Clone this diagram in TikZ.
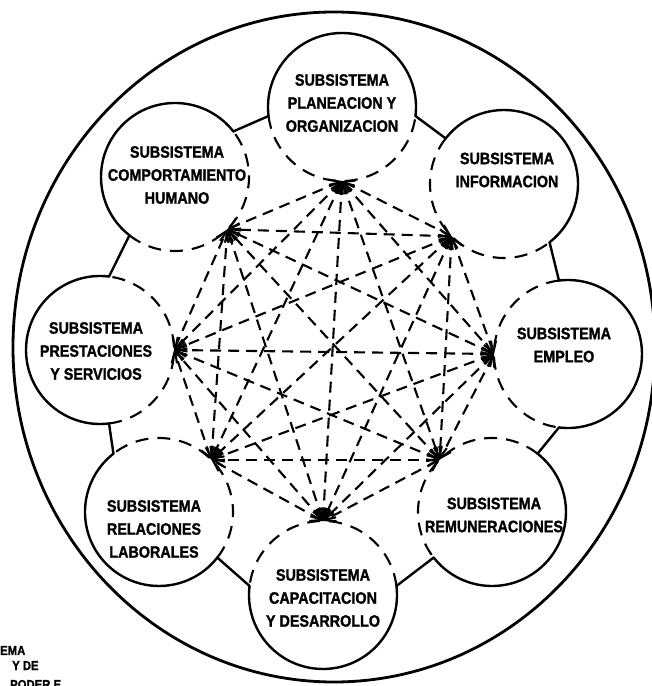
\documentclass[tikz,border=0pt]{standalone}
\usepackage{fontspec}
\newfontfamily\labelfont{Liberation Sans}[FakeStretch=0.87, BoldFeatures={FakeBold=1.3}]
\usetikzlibrary{arrows.meta,calc}

\begin{document}
\begin{tikzpicture}[x=1pt, y=1pt,
  sub/.style={circle, minimum size=148pt, inner sep=0pt, outer sep=0pt},
  rim/.style={line width=2.4pt, line cap=round},
  rimdash/.style={line width=2.1pt, dash pattern=on 13pt off 9pt},
  txt/.style={align=center, font=\labelfont\bfseries\fontsize{16.5}{23}\selectfont},
  frag/.style={anchor=base west, inner sep=0pt, font=\labelfont\bfseries\fontsize{13}{14}\selectfont},
  arr/.style={{Straight Barb[length=10pt,width=13pt]}-{Straight Barb[length=10pt,width=13pt]}, line width=2.1pt, dash pattern=on 11pt off 7pt}
]
  \useasboundingbox (0,0) rectangle (652,686);

  % outer boundary
  \draw[line width=2.8pt] (334,339) ellipse [x radius=321pt, y radius=335pt];

  % subsystems
  \node[sub] (planeacion) at (342,579) {};
  \node[sub] (informacion) at (504,502) {};
  \node[sub] (empleo) at (568,332) {};
  \node[sub] (remuneraciones) at (492,174) {};
  \node[sub] (capacitacion) at (323,91) {};
  \node[sub] (relaciones) at (159,174) {};
  \node[sub] (prestaciones) at (100,336) {};
  \node[sub] (comportamiento) at (175,509) {};

  \node[txt] at ([yshift=4pt]planeacion) {SUBSISTEMA\\PLANEACION Y\\ORGANIZACION};
  \node[txt] at ([xshift=3pt,yshift=14pt]informacion) {SUBSISTEMA\\INFORMACION};
  \node[txt] at ([xshift=-4pt,yshift=9pt]empleo) {SUBSISTEMA\\EMPLEO};
  \node[txt] at ([xshift=2pt,yshift=-3pt]remuneraciones) {SUBSISTEMA\\REMUNERACIONES};
  \node[txt] at ([yshift=-3pt]capacitacion) {SUBSISTEMA\\CAPACITACION\\Y DESARROLLO};
  \node[txt] at ([xshift=-5pt,yshift=-17pt]relaciones) {SUBSISTEMA\\RELACIONES\\LABORALES};
  \node[txt] at ([xshift=-4pt,yshift=-1pt]prestaciones) {SUBSISTEMA\\PRESTACIONES\\Y SERVICIOS};
  \node[txt] at ([xshift=2pt,yshift=2pt]comportamiento) {SUBSISTEMA\\COMPORTAMIENTO\\HUMANO};

  % solid outer arcs, dashed inner arcs, inner points
  \foreach \n/\a in {planeacion/90, informacion/45, empleo/0, remuneraciones/-45,
                     capacitacion/-90, relaciones/-135, prestaciones/180, comportamiento/135} {
    \draw[rim] (\n) ++(\a-97:74pt) arc[start angle=\a-97, end angle=\a+97, radius=74pt];
    \draw[rimdash] (\n) ++(\a+97:74pt) arc[start angle=\a+97, end angle=\a+263, radius=74pt];
    \coordinate (\n-in) at ($(\n)+(\a+180:74pt)$);
  }

  % short links between neighbours
  \foreach \n/\m/\a in {empleo/informacion/0, informacion/planeacion/45, planeacion/comportamiento/90,
                        comportamiento/prestaciones/135, prestaciones/relaciones/180,
                        relaciones/capacitacion/-135, capacitacion/remuneraciones/-90,
                        remuneraciones/empleo/-45}
    \draw[rim] ($(\n)+(\a+97:74pt)$) -- ($(\m)+(\a-52:74pt)$);

  % every subsystem linked with every other
  \foreach \u [count=\i] in {planeacion,informacion,empleo,remuneraciones,capacitacion,relaciones,prestaciones,comportamiento}
    \foreach \v [count=\j] in {planeacion,informacion,empleo,remuneraciones,capacitacion,relaciones,prestaciones,comportamiento}
      {\ifnum\i<\j \draw[arr] (\u-in) -- (\v-in); \fi}

  % cut-off caption at the page corner
  \node[frag] (frag1) at (0,31) {EMA};
  \node[frag] (frag2) at (12,16) {Y DE};
  \node[frag] (frag3) at (10,-3) {PODER E};
\end{tikzpicture}
\end{document}
